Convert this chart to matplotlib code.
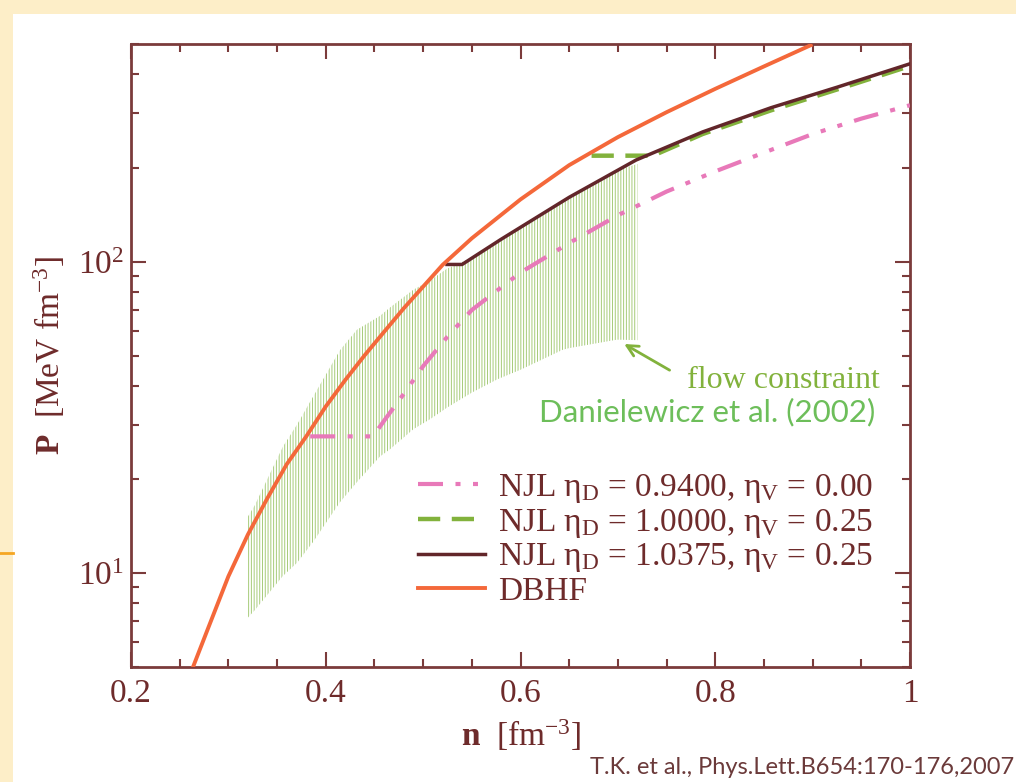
import matplotlib.pyplot as plt
from matplotlib.patches import Rectangle
from matplotlib.lines import Line2D
from matplotlib.ticker import LogLocator, MultipleLocator, LogFormatterMathtext, NullFormatter

plt.rcParams['font.family'] = ['Liberation Serif', 'DejaVu Serif']
plt.rcParams['mathtext.fontset'] = 'custom'
plt.rcParams['mathtext.rm'] = 'Liberation Serif'
plt.rcParams['mathtext.it'] = 'Liberation Serif:italic'
plt.rcParams['mathtext.bf'] = 'Liberation Serif:bold'
plt.rcParams['hatch.linewidth'] = 0.7

# DBHF
dbhf_n = [0.2637, 0.28, 0.30, 0.32, 0.34, 0.36, 0.38, 0.40, 0.42, 0.44, 0.46,
          0.48, 0.50, 0.52, 0.55, 0.60, 0.65, 0.70, 0.75, 0.80, 0.85, 0.898]
dbhf_p = [5.0, 6.76, 9.77, 13.3, 17.4, 22.4, 27.5, 34.3, 41.7, 50.1, 59.6,
          70.8, 83.2, 97.7, 118.9, 158.5, 204.2, 251.2, 302.0, 358.9, 423.6, 495.5]

# NJL eta_D = 1.0375, eta_V = 0.25
njl3_n = [0.5245, 0.540, 0.58, 0.65, 0.7186, 0.787, 0.857, 0.926, 1.0]
njl3_p = [98.0, 98.0, 118.0, 161.0, 212.0, 261.0, 312.0, 364.0, 432.0]

# NJL eta_D = 1.0000, eta_V = 0.25
njl2_n = [0.673, 0.736, 0.787, 0.857, 0.926, 1.0]
njl2_p = [219.0, 219.0, 257.0, 306.0, 358.0, 425.0]

# NJL eta_D = 0.9400, eta_V = 0.00
njl1_n = [0.384, 0.4485, 0.46, 0.48, 0.50, 0.525, 0.55, 0.60, 0.65, 0.70,
          0.75, 0.80, 0.85, 0.90, 0.95, 1.0]
njl1_p = [27.5, 27.5, 30.9, 37.6, 46.2, 57.5, 70.0, 92.3, 114.8, 141.0,
          168.0, 195.0, 224.0, 257.0, 288.0, 318.0]

# flow constraint band (Danielewicz et al. 2002)
flow_n = [0.32, 0.327, 0.356, 0.3705, 0.387, 0.4146, 0.432, 0.4557, 0.466, 0.49,
          0.507, 0.5245, 0.55, 0.576, 0.60, 0.6436, 0.65, 0.699, 0.70, 0.72]
flow_lo = [7.2, 7.6, 9.8, 10.8, 12.6, 16.9, 19.6, 23.7, 25.0, 29.0,
           31.2, 34.0, 38.0, 41.9, 45.0, 52.2, 52.8, 56.2, 56.2, 56.0]
flow_hi = [15.2, 16.5, 25.5, 30.0, 36.9, 52.0, 60.5, 67.0, 71.3, 81.3,
           87.0, 95.0, 103.0, 115.0, 128.0, 155.0, 160.0, 195.0, 197.0, 206.0]

labels = [r'NJL η$_\mathrm{D}$ = 0.9400, η$_\mathrm{V}$ = 0.00',
          r'NJL η$_\mathrm{D}$ = 1.0000, η$_\mathrm{V}$ = 0.25',
          r'NJL η$_\mathrm{D}$ = 1.0375, η$_\mathrm{V}$ = 0.25',
          'DBHF']

txt = '#6e2b2b'
frame = '#7b3b3b'
c_dbhf = '#f4683a'
c_brown = '#62262a'
c_green = '#82b23c'
c_pink = '#e879b9'

fig = plt.figure(figsize=(10.16, 7.82), dpi=100)
fig.patch.set_facecolor('white')
# slide background strips
fig.add_artist(Rectangle((0, 1 - 14 / 782), 1, 14 / 782, transform=fig.transFigure,
                         facecolor='#fdeec8', edgecolor='none', zorder=0))
fig.add_artist(Rectangle((0, 0), 13 / 1016, 1, transform=fig.transFigure,
                         facecolor='#fdeec8', edgecolor='none', zorder=0))
fig.add_artist(Line2D([0, 13 / 1016], [1 - 553 / 782] * 2, transform=fig.transFigure,
                      color='#f5a623', lw=2))

ax = fig.add_axes([131 / 1016, 1 - 667 / 782, 779 / 1016, 623 / 782])

ax.fill_between(flow_n, flow_lo, flow_hi, facecolor='none',
                edgecolor=(0.50, 0.71, 0.25, 0.7), hatch='||||||', linewidth=0, zorder=1)

ax.plot(njl1_n, njl1_p, color=c_pink, lw=3, dashes=(6, 3, 1.2, 3, 1.2, 3), label=labels[0], zorder=3)
ax.plot(njl2_n, njl2_p, color=c_green, lw=3.2, dashes=(5, 2.6), label=labels[1], zorder=3)
ax.plot(njl3_n, njl3_p, color=c_brown, lw=2.5, label=labels[2], zorder=4)
ax.plot(dbhf_n, dbhf_p, color=c_dbhf, lw=2.8, label='DBHF', zorder=5)

ax.set_yscale('log')
ax.set_xlim(0.2, 1.0)
ax.set_ylim(5, 500)
ax.xaxis.set_major_locator(MultipleLocator(0.2))
ax.xaxis.set_minor_locator(MultipleLocator(0.05))
ax.yaxis.set_major_locator(LogLocator(base=10))
ax.yaxis.set_minor_locator(LogLocator(base=10, subs=range(2, 10)))
ax.yaxis.set_major_formatter(LogFormatterMathtext())
ax.yaxis.set_minor_formatter(NullFormatter())
ax.set_xticks([0.2, 0.4, 0.6, 0.8, 1.0])
ax.set_xticklabels(['0.2', '0.4', '0.6', '0.8', '1'])

ax.tick_params(which='both', direction='in', top=True, right=True, color=frame,
               labelcolor=txt, labelsize=24, width=1.5)
ax.tick_params(which='major', length=11)
ax.tick_params(which='minor', length=6)
ax.tick_params(axis='x', pad=8)
ax.tick_params(axis='y', pad=5)
for s in ax.spines.values():
    s.set_color(frame)
    s.set_linewidth(2)

ax.set_xlabel(r'$\mathbf{n}$  [fm$^{-3}$]', fontsize=24, color=txt, labelpad=6)
ax.set_ylabel(r'$\mathbf{P}$  [MeV fm$^{-3}$]', fontsize=24, color=txt, labelpad=8)

leg = ax.legend(loc='upper left', bbox_to_anchor=(418 / 1016, 1 - 472 / 782),
                bbox_transform=fig.transFigure, frameon=False, fontsize=24,
                handlelength=2.0, handletextpad=0.4, labelspacing=0.05,
                borderpad=0, borderaxespad=0)
for t in leg.get_texts():
    t.set_color(txt)

ax.annotate('', xy=(0.704, 55.0), xytext=(0.7556, 44.4),
            arrowprops=dict(arrowstyle='->', color=c_green, lw=2, mutation_scale=20))
ax.text(0.969, 41.6, 'flow constraint', color=c_green, fontsize=23,
        ha='right', va='center')
ax.text(0.964, 32.8, 'Danielewicz et al. (2002)', color='#6dbe5a', fontsize=22.5,
        family=['Lato', 'DejaVu Sans'], ha='right', va='center')

fig.text(0.998, 1 - 767 / 782, 'T.K. et al., Phys.Lett.B654:170-176,2007', color='#6b3a3a',
         fontsize=17, family=['Lato', 'DejaVu Sans'], ha='right', va='center')

fig.savefig('out.png', dpi=100, facecolor=fig.get_facecolor())
